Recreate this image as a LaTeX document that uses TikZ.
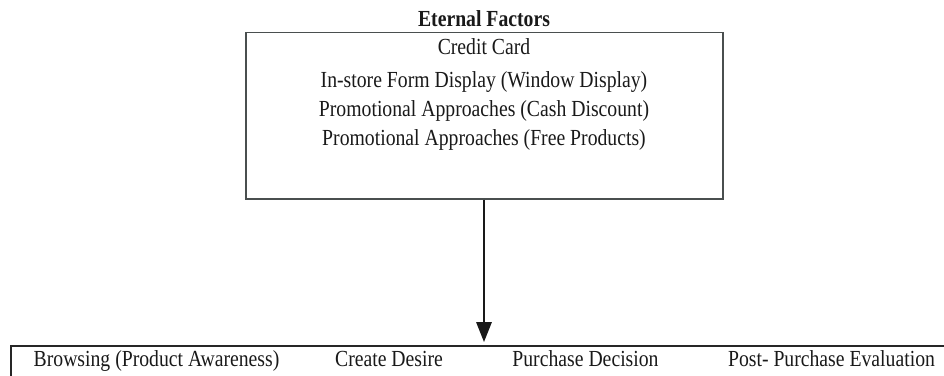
\documentclass[tikz,border=0pt]{standalone}
\usepackage{fontspec}
\setmainfont[FakeStretch=0.857]{Liberation Serif}
\usetikzlibrary{arrows.meta}
\definecolor{frame}{HTML}{4A4F4F}
\tikzset{
  lbl/.style={inner sep=0pt, anchor=base, font=\fontsize{23}{27}\selectfont, text=black!90},
  head/.style={inner sep=0pt, anchor=base, font=\fontsize{23}{27}\selectfont\bfseries, text=black!90},
  frameline/.style={draw=frame, line width=1.5pt},
  flow/.style={draw=black!90, line width=1.5pt, -{Triangle[length=20pt, width=15.5pt]}},
}
\begin{document}
\begin{tikzpicture}[x=1pt, y=-1pt]
\useasboundingbox (0,0) rectangle (944,375);
\node[head] (title) at (484,26) {Eternal Factors};
\node[frameline, rectangle, minimum width=477pt, minimum height=166.5pt, anchor=north west, inner sep=0pt] (ext) at (245,31.5) {};
\node[lbl] (f1) at (484,54) {Credit Card};
\node[lbl] (f2) at (484,87) {In-store Form Display (Window Display)};
\node[lbl] (f3) at (484,116.5) {Promotional Approaches (Cash Discount)};
\node[lbl] (f4) at (484,145.8) {Promotional Approaches (Free Products)};
\coordinate (corner) at (11,346);
\coordinate (rightend) at (944,346);
\coordinate (leftend) at (11,376);
\coordinate (tip) at (484,346);
\draw[frameline, draw=black!85] (leftend) -- (corner) -- (rightend);
\node[lbl] (s1) at (156.5,366) {Browsing (Product Awareness)};
\node[lbl] (s2) at (389,366) {Create Desire};
\node[lbl] (s3) at (585.5,366) {Purchase Decision};
\node[lbl] (s4) at (831.5,366) {Post- Purchase Evaluation};
\draw[flow] (ext.south -| tip) -- ([yshift=4pt]tip);
\end{tikzpicture}
\end{document}
